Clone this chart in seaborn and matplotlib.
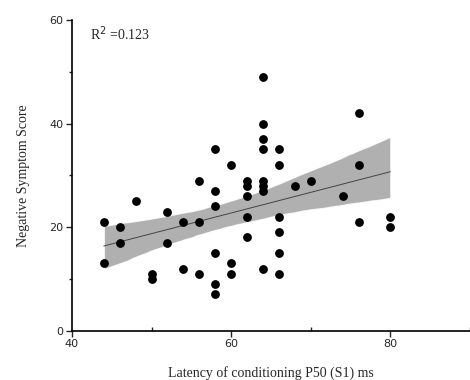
import pandas as pd
import matplotlib
matplotlib.use("Agg")
import matplotlib.pyplot as plt
import seaborn as sns
from matplotlib.ticker import MultipleLocator

# latency (ms) and negative symptom score
latency = [44, 44, 46, 46, 48, 50, 50, 52, 52, 54, 54,
           56, 56, 56, 58, 58, 58, 58, 58, 58,
           60, 60, 60, 62, 62, 62, 62, 62,
           64, 64, 64, 64, 64, 64, 64, 64,
           66, 66, 66, 66, 66, 66, 68, 70, 74, 76, 76, 76, 80, 80]
score = [21, 13, 20, 17, 25, 11, 10, 23, 17, 21, 12,
         29, 21, 11, 35, 27, 24, 15, 9, 7,
         32, 13, 11, 29, 28, 26, 22, 18,
         49, 40, 37, 35, 29, 28, 27, 12,
         35, 32, 22, 19, 15, 11, 28, 29, 26, 42, 32, 21, 22, 20]
r2_text = "R$^2$ =0.123"

df = pd.DataFrame({"latency": latency, "score": score})

sns.set_style("white")
serif = ["Liberation Serif", "DejaVu Serif"]

fig = plt.figure(figsize=(4.7, 3.8), dpi=100)
ax = fig.add_axes([0.153, 0.13, 0.847, 0.817])

sns.regplot(data=df, x="latency", y="score", ax=ax, ci=95,
            scatter_kws=dict(s=40, color="black", alpha=1, linewidths=0, zorder=3),
            line_kws=dict(color="#444444", linewidth=0.7))
# grey band like the original
for coll in ax.collections[1:]:
    coll.set_facecolor("#a3a3a3")
    coll.set_alpha(0.85)

ax.set_xlim(40, 90)
ax.set_ylim(0, 60)
sns.despine(ax=ax)
for s in ["left", "bottom"]:
    ax.spines[s].set_linewidth(1.2)
    ax.spines[s].set_color("black")

ax.xaxis.set_major_locator(MultipleLocator(20))
ax.xaxis.set_minor_locator(MultipleLocator(10))
ax.yaxis.set_major_locator(MultipleLocator(20))
ax.yaxis.set_minor_locator(MultipleLocator(10))
ax.tick_params(axis="both", which="major", direction="out", length=4, width=1,
               labelsize=8, bottom=True, left=True, pad=2)
ax.tick_params(axis="x", which="minor", direction="in", length=3, width=1, bottom=True)
ax.tick_params(axis="y", which="minor", direction="out", length=2.5, width=1, left=True)

ax.set_xlabel("Latency of conditioning P50 (S1) ms", family=serif, fontsize=10, labelpad=12)
ax.set_ylabel("Negative Symptom Score", family=serif, fontsize=10, labelpad=14)
ax.text(0.045, 0.985, r2_text, transform=ax.transAxes, family=serif,
        fontsize=10, va="top", ha="left")

plt.savefig("out.png", dpi=100)
